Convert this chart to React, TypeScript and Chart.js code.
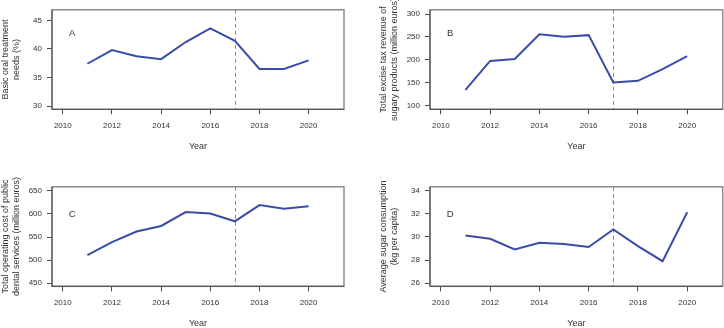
import React, { useEffect, useRef } from "react";
import { Chart, registerables } from "chart.js";

Chart.register(...registerables);

const years = [2011, 2012, 2013, 2014, 2015, 2016, 2017, 2018, 2019, 2020];
const xTicks = [2010, 2012, 2014, 2016, 2018, 2020];
const interventionYear = 2017;

const oralNeeds = [37.4, 39.8, 38.7, 38.2, 41.2, 43.6, 41.4, 36.5, 36.5, 38.0];
const exciseRevenue = [134.8, 197.8, 202, 255.8, 250.7, 254, 150.7, 154.3, 180, 208];
const dentalCost = [510.8, 539, 562, 574, 604, 600.7, 584, 619, 611, 616.5];
const sugarConsumption = [30.11, 29.83, 28.92, 29.49, 29.38, 29.12, 30.63, 29.2, 27.9, 32.12];

const ticksA = [30, 35, 40, 45];
const ticksB = [100, 150, 200, 250, 300];
const ticksC = [450, 500, 550, 600, 650];
const ticksD = [26, 28, 30, 32, 34];

const titleA = ["Basic oral treatment", "needs (%)"];
const titleB = ["Total excise tax revenue of", "sugary products (million euros)"];
const titleC = ["Total operating cost of public", "dental services (million euros)"];
const titleD = ["Average sugar consumption", "(kg per capita)"];

const FONT = "'Liberation Sans', Arial, sans-serif";
const TEXT = "#333333";

type PanelProps = {
  values: number[];
  yTicks: number[];
  yMin: number;
  yMax: number;
  yTitle: string[];
  letter: string;
  letterY: number;
  yWidth: number;
  titlePad: number;
  padRight: number;
  padTop: number;
};

const CW = 362;
const CH = 152;

function Panel(p: PanelProps) {
  const ref = useRef<HTMLCanvasElement | null>(null);
  useEffect(() => {
    if (!ref.current) return;
    const deco = {
      id: "deco",
      beforeDatasetsDraw(chart: any) {
        const { ctx, chartArea, scales } = chart;
        const x = scales.x.getPixelForValue(interventionYear);
        ctx.save();
        ctx.strokeStyle = "#8a8a8a";
        ctx.lineWidth = 1;
        ctx.setLineDash([4, 3]);
        ctx.beginPath();
        ctx.moveTo(Math.round(x) + 0.5, chartArea.top);
        ctx.lineTo(Math.round(x) + 0.5, chartArea.bottom);
        ctx.stroke();
        ctx.restore();
      },
      afterDraw(chart: any) {
        const { ctx, chartArea, scales } = chart;
        ctx.save();
        ctx.strokeStyle = "#8c8c8c";
        ctx.lineWidth = 1.5;
        ctx.strokeRect(chartArea.left, chartArea.top, chartArea.right - chartArea.left, chartArea.bottom - chartArea.top);
        ctx.strokeStyle = "#4a4a4a";
        ctx.lineWidth = 1;
        ctx.beginPath();
        ctx.moveTo(chartArea.left, chartArea.top);
        ctx.lineTo(chartArea.left, chartArea.bottom);
        ctx.lineTo(chartArea.right, chartArea.bottom);
        ctx.stroke();
        ctx.fillStyle = TEXT;
        ctx.font = `9.5px ${FONT}`;
        ctx.textAlign = "center";
        ctx.textBaseline = "middle";
        ctx.fillText(p.letter, scales.x.getPixelForValue(2010.38), scales.y.getPixelForValue(p.letterY));
        ctx.restore();
      },
    };
    const chart = new Chart(ref.current, {
      type: "line",
      data: {
        datasets: [
          {
            data: years.map((y, i) => ({ x: y, y: p.values[i] })),
            borderColor: "#3b4ca8",
            borderWidth: 2,
            pointRadius: 0,
            tension: 0,
            fill: false,
          },
        ],
      },
      options: {
        animation: false,
        responsive: false,
        events: [],
        layout: { padding: { top: p.padTop, right: p.padRight, left: 0, bottom: 0 } },
        plugins: { legend: { display: false }, tooltip: { enabled: false } },
        scales: {
          x: {
            type: "linear",
            min: 2009.56,
            max: 2021.44,
            afterBuildTicks: (s: any) => {
              s.ticks = xTicks.map((v) => ({ value: v }));
            },
            afterFit: (s: any) => {
              s.height = CH - 109.3;
            },
            ticks: {
              autoSkip: false,
              maxRotation: 0,
              padding: 7,
              color: TEXT,
              font: { size: 8, family: FONT },
              callback: (v: any) => String(v),
            },
            grid: { display: true, drawOnChartArea: false, drawTicks: true, tickLength: 5, color: "#4a4a4a", lineWidth: 1 },
            border: { display: false },
            title: { display: true, text: "Year", color: TEXT, font: { size: 9, family: FONT }, padding: { top: 0, bottom: 0 } },
          },
          y: {
            type: "linear",
            min: p.yMin,
            max: p.yMax,
            afterBuildTicks: (s: any) => {
              s.ticks = p.yTicks.map((v) => ({ value: v }));
            },
            afterFit: (s: any) => {
              s.width = p.yWidth;
            },
            ticks: {
              autoSkip: false,
              padding: 5,
              color: TEXT,
              font: { size: 8, family: FONT },
              callback: (v: any) => String(v),
            },
            grid: { display: true, drawOnChartArea: false, drawTicks: true, tickLength: 5, color: "#4a4a4a", lineWidth: 1 },
            border: { display: false },
            title: { display: true, text: p.yTitle, color: TEXT, font: { size: 9, family: FONT }, padding: { top: p.titlePad, bottom: 0 } },
          },
        },
      },
      plugins: [deco],
    } as any);
    return () => chart.destroy();
  }, []);
  return <canvas ref={ref} width={CW} height={CH} style={{ display: "block", width: CW, height: CH }} />;
}

export default function App() {
  const box = (left: number, top: number): React.CSSProperties => ({ position: "absolute", left, top, width: CW, height: CH });
  return (
    <div style={{ position: "fixed", left: 0, top: 0, width: 724, height: 328, overflow: "hidden", background: "#fff" }}>
      <div style={box(0, 0)}>
        <Panel values={oralNeeds} yTicks={ticksA} yMin={29.43} yMax={46.84} yTitle={titleA} letter="A" letterY={42.8} yWidth={52} titlePad={0} padRight={18} padTop={8.3} />
      </div>
      <div style={box(362, 0)}>
        <Panel values={exciseRevenue} yTicks={ticksB} yMin={92.2} yMax={309.3} yTitle={titleB} letter="B" letterY={257} yWidth={68} titlePad={16.6} padRight={1.3} padTop={9} />
      </div>
      <div style={box(0, 177)}>
        <Panel values={dentalCost} yTicks={ticksC} yMin={443.5} yMax={658.6} yTitle={titleC} letter="C" letterY={599} yWidth={52} titlePad={0} padRight={18} padTop={9.3} />
      </div>
      <div style={box(362, 177)}>
        <Panel values={sugarConsumption} yTicks={ticksD} yMin={25.74} yMax={34.31} yTitle={titleD} letter="D" letterY={31.95} yWidth={68} titlePad={16.6} padRight={1.3} padTop={9.7} />
      </div>
    </div>
  );
}
